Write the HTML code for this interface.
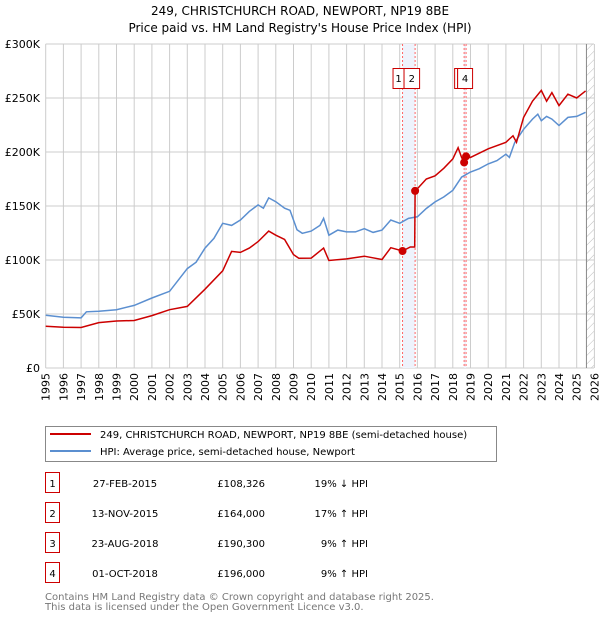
<!DOCTYPE html>
<html><head><meta charset="utf-8"><style>
body{margin:0;background:#fff;font-family:"DejaVu Sans","Liberation Sans",sans-serif;}
svg text{font-family:"DejaVu Sans","Liberation Sans",sans-serif;}
</style></head><body>
<svg id="c" width="600" height="620" viewBox="0 0 600 620">
<text x="300" y="15" text-anchor="middle" font-size="12" fill="#000">249, CHRISTCHURCH ROAD, NEWPORT, NP19 8BE</text>
<text x="300" y="32" text-anchor="middle" font-size="12" fill="#000">Price paid vs. HM Land Registry's House Price Index (HPI)</text>
<g id="grid"></g><g id="bands"></g><g id="lines"></g><g id="axes"></g>
<g>
<rect x="45.5" y="426.5" width="451" height="35" fill="#fff" stroke="#888"/>
<line x1="50" y1="434" x2="91" y2="434" stroke="#cc0000" stroke-width="2"/>
<text x="100" y="438" font-size="10">249, CHRISTCHURCH ROAD, NEWPORT, NP19 8BE (semi-detached house)</text>
<line x1="50" y1="451" x2="91" y2="451" stroke="#5b8fd0" stroke-width="2"/>
<text x="100" y="455" font-size="10">HPI: Average price, semi-detached house, Newport</text>
</g>
<g id="table" font-size="10"></g>
<text x="45" y="600" font-size="10" fill="#777">Contains HM Land Registry data © Crown copyright and database right 2025.</text>
<text x="45" y="610" font-size="10" fill="#777">This data is licensed under the Open Government Licence v3.0.</text>
</svg>
<script>
const yTicks=[0,50,100,150,200,250,300];
const yTickLabels=["£0","£50K","£100K","£150K","£200K","£250K","£300K"];
const years=[1995,1996,1997,1998,1999,2000,2001,2002,2003,2004,2005,2006,2007,2008,2009,2010,2011,2012,2013,2014,2015,2016,2017,2018,2019,2020,2021,2022,2023,2024,2025,2026];
const hpiT=[1995,1996,1997,1997.3,1998,1999,2000,2001,2002,2003,2003.5,2004,2004.5,2005,2005.5,2006,2006.5,2007,2007.3,2007.6,2008,2008.5,2008.8,2009.2,2009.5,2010,2010.5,2010.7,2011,2011.5,2012,2012.5,2013,2013.5,2014,2014.5,2015,2015.5,2016,2016.5,2017,2017.5,2018,2018.5,2019,2019.5,2020,2020.5,2021,2021.2,2021.5,2022,2022.5,2022.8,2023,2023.3,2023.6,2024,2024.5,2025,2025.5];
const hpiV=[48.8,47,46.4,52,52.5,54,58,64.8,71,92,98,111,120,134,132,137,145,151,148,157.5,154,148,146,128,124.7,126.8,132,138.5,123,127.7,126,126,129,125.6,127.7,137,134,138.5,140,147.7,153.8,158.4,164.5,176.8,181.5,184.5,189,192,198,195,209,221,230.5,235,229,233,230.5,224.5,232,233,236.8];
const propT=[1995,1996,1997,1998,1999,2000,2001,2002,2003,2004,2005,2005.5,2006,2006.5,2007,2007.6,2008,2008.5,2009,2009.3,2010,2010.7,2011,2012,2013,2014,2014.5,2015.16,2015.6,2015.85,2015.87,2016,2016.5,2017,2017.5,2018,2018.3,2018.5,2018.65,2018.75,2019,2020,2021,2021.2,2021.4,2021.6,2022,2022.5,2023,2023.3,2023.6,2024,2024.5,2025,2025.5];
const propV=[38.7,37.8,37.5,42,43.5,44,48.5,54,57,73,90,108,107,111,117,126.8,123,119,105,101.6,101.8,111,99.5,101,103.5,100.5,111.4,108.3,112,112,164,166,175,178,185,193.6,204,195,190.3,196,195,203,209,212,215,209,232,247,257,247,255,243,253.5,250,256.6];
const saleT=[2015.16,2015.87,2018.64,2018.75];
const saleV=[108.326,164,190.3,196];
const saleLabels=["1","2","3","4"];
const saleDates=["27-FEB-2015","13-NOV-2015","23-AUG-2018","01-OCT-2018"];
const salePrices=["£108,326","£164,000","£190,300","£196,000"];
const salePct=["19% ↓ HPI","17% ↑ HPI","9% ↑ HPI","9% ↑ HPI"];
const NS="http://www.w3.org/2000/svg";
const X=t=>45.7+(t-1995)*17.7, Y=v=>368-v*1.08;
const L=0,R=594,T=44,B=368;
function mk(tag,at,p){const e=document.createElementNS(NS,tag);for(const k in at)e.setAttribute(k,at[k]);p.appendChild(e);return e;}
const grid=document.getElementById('grid'),bands=document.getElementById('bands'),lines=document.getElementById('lines'),axes=document.getElementById('axes'),tbl=document.getElementById('table');
const bg=mk('rect',{x:45.7,y:T,width:R-45.7,height:B-T,fill:'#fff'},grid);


yTicks.forEach((v,i)=>{
 const g=mk('line',{x1:45.7,x2:R,y1:Y(v),y2:Y(v),stroke:'#ccc'},grid);
 
 
 const t=mk('text',{x:40,y:Y(v)+4,'text-anchor':'end','font-size':11},axes);t.textContent=yTickLabels[i];
 
 
});
years.forEach(yr=>{
 const g=mk('line',{x1:X(yr),x2:X(yr),y1:T,y2:B,stroke:'#ccc'},grid);
 
 
 const t=mk('text',{x:0,y:0,'text-anchor':'end','font-size':11,transform:`translate(${X(yr)+4},${B+5}) rotate(-90)`},axes);t.textContent=yr;
 
 
});
// hatched future area
const defs=mk('defs',{},grid);
const pat=mk('pattern',{id:'h',width:6,height:6,patternUnits:'userSpaceOnUse',patternTransform:'rotate(45)'},defs);
mk('line',{x1:0,y1:0,x2:0,y2:6,stroke:'#bbb','stroke-width':1},pat);
const hx=X(2025.55);
const hr=mk('rect',{x:hx,y:T,width:R-hx,height:B-T,fill:'url(#h)'},bands);


mk('line',{x1:hx,x2:hx,y1:T,y2:B,stroke:'#888'},bands);
[[0,1],[2,3]].forEach(p=>{
 const r=mk('rect',{x:X(saleT[p[0]]),y:T,width:X(saleT[p[1]])-X(saleT[p[0]]),height:B-T,fill:'#eef3fc'},bands);
 
 
});
saleT.forEach((t,i)=>{
 const l=mk('line',{x1:X(t),x2:X(t),y1:T,y2:B,stroke:'#ff6666','stroke-dasharray':'2,2'},bands);
 
 
});
const path=(ts,vs)=>ts.map((t,i)=>(i?'L':'M')+X(t).toFixed(1)+','+Y(vs[i]).toFixed(1)).join('');
const hp=mk('path',{d:path(hpiT,hpiV),fill:'none',stroke:'#5b8fd0','stroke-width':1.5},lines);


const pp=mk('path',{d:path(propT,propV),fill:'none',stroke:'#cc0000','stroke-width':1.5},lines);


saleT.forEach((t,i)=>{
 const c=mk('circle',{cx:X(t),cy:Y(saleV[i]),r:4,fill:'#cc0000'},lines);
 
 
});
// annotation boxes
const boxes=[[X(saleT[0])-10,X(saleT[0])+1],[X(saleT[0])+1,X(saleT[1])+4],[X(saleT[2])-10,X(saleT[2])-7],[X(saleT[2])-7,X(saleT[3])+6]];
boxes.forEach((b,i)=>{
 const r=mk('rect',{x:b[0]+0.5,y:68.5,width:b[1]-b[0],height:20,fill:'#fff',stroke:'#cc0000'},lines);
 
 
 if(i!==2){const t=mk('text',{x:(b[0]+b[1])/2+0.5,y:82,'text-anchor':'middle','font-size':10},lines);t.textContent=saleLabels[i];
 
 }
});
const rowY=[483,513,543,573];
rowY.forEach((y,i)=>{
 const r=mk('rect',{x:45.5,y:y-10.5,width:14,height:20,fill:'#fff',stroke:'#cc0000'},tbl);
 
 
 const a=[[52.5,'middle',saleLabels[i]],[125,'middle',saleDates[i]],[265,'end',salePrices[i]],[368,'end',salePct[i]]];
 a.forEach(c=>{const t=mk('text',{x:c[0],y:y+4,'text-anchor':c[1]},tbl);t.textContent=c[2];
 
 });
});
</script>
</body></html>
